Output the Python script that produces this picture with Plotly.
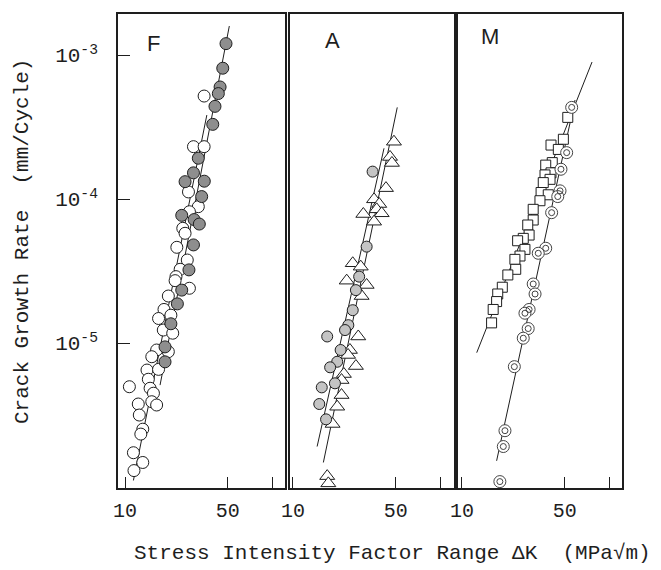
import plotly.graph_objects as go

# ---------------- data (ΔK in MPa√m, da/dN in mm/cycle) ----------------
F_filled_dk = [48.6, 46.2, 44.3, 43.1, 40.9, 39.5, 31.5, 29.2, 34.6, 25.6, 33.2, 24.3, 29.5, 32.0,
               29.2, 27.2, 24.3, 22.7, 20.5, 18.7, 18.7]
F_filled_rate = [1.20e-3, 8.1e-4, 6.0e-4, 5.4e-4, 4.4e-4, 3.3e-4, 1.92e-4, 1.52e-4, 1.33e-4, 1.32e-4,
                 1.04e-4, 7.7e-5, 7.2e-5, 6.7e-5, 4.8e-5, 3.22e-5, 2.33e-5, 1.87e-5, 1.36e-5, 9.4e-6, 7.4e-6]

F_open_dk = [34.5, 29.2, 34.5, 27.0, 31.5, 27.4, 24.7, 25.6, 22.5, 26.5, 23.7, 22.2, 21.9, 27.4,
             19.7, 18.4, 16.9, 20.5, 18.2, 21.1, 16.4, 19.7, 15.2, 14.1, 16.9, 14.4, 14.8, 15.6,
             10.7, 15.2, 16.4, 12.3, 12.5, 13.2, 12.8, 11.4, 13.2, 11.5]
F_open_rate = [5.19e-4, 2.31e-4, 2.31e-4, 1.12e-4, 8.85e-5, 8.16e-5, 6.26e-5, 5.78e-5, 4.62e-5,
               3.77e-5, 3.25e-5, 2.89e-5, 2.71e-5, 2.40e-5, 2.12e-5, 1.71e-5, 1.48e-5, 1.56e-5,
               1.23e-5, 1.17e-5, 8.94e-6, 8.7e-6, 8.03e-6, 6.49e-6, 6.56e-6, 5.6e-6, 4.85e-6,
               4.48e-6, 4.97e-6, 3.91e-6, 3.71e-6, 3.77e-6, 3.16e-6, 2.52e-6, 2.33e-6, 1.73e-6,
               1.48e-6, 1.30e-6]

F_fit_filled_dk = [17.3, 51.2]
F_fit_filled_rate = [5.1e-6, 1.59e-3]
F_fit_open_dk = [11.4, 36.0]
F_fit_open_rate = [1.11e-6, 3.83e-4]

A_tri_dk = [48.6, 45.7, 47.1, 42.9, 35.6, 38.6, 37.1, 40.1, 30.1, 35.6, 25.5, 28.9, 23.2, 31.7,
            29.3, 27.8, 24.4, 23.7, 26.8, 22.2, 21.4, 21.4, 20.0, 18.6, 17.1, 17.4]
A_tri_rate = [2.50e-4, 1.96e-4, 1.78e-4, 1.19e-4, 9.95e-5, 9.23e-5, 8.48e-5, 7.96e-5, 7.87e-5,
              6.96e-5, 3.58e-5, 3.39e-5, 2.71e-5, 2.53e-5, 2.12e-5, 1.11e-5, 8.94e-6, 8.26e-6,
              6.92e-6, 6.09e-6, 5.53e-6, 4.35e-6, 3.61e-6, 2.74e-6, 1.19e-6, 1.06e-6]

A_circ_dk = [34.8, 31.7, 28.2, 26.8, 25.5, 23.8, 22.6, 17.1, 21.1, 20.0, 17.9, 19.3, 15.7, 15.1, 16.8]
A_circ_rate = [1.55e-4, 4.67e-5, 2.89e-5, 2.33e-5, 1.69e-5, 1.33e-5, 1.23e-5, 1.11e-5, 8.94e-6,
               7.41e-6, 6.78e-6, 5.25e-6, 4.92e-6, 3.77e-6, 2.95e-6]

A_fit_circ_dk = [14.6, 41.6]
A_fit_circ_rate = [1.91e-6, 2.25e-4]
A_fit_tri_dk = [16.1, 51.2]
A_fit_tri_rate = [1.48e-6, 4.33e-4]

M_sq_dk = [52.4, 48.9, 40.3, 45.2, 41.1, 37.1, 40.3, 36.7, 39.7, 35.7, 34.5, 38.6, 33.9, 30.5,
           30.5, 28.0, 28.6, 26.1, 23.9, 26.8, 24.8, 22.9, 23.2, 20.5, 18.8, 17.5, 17.2, 16.3, 15.9]
M_sq_rate = [3.69e-4, 2.60e-4, 2.37e-4, 2.21e-4, 1.79e-4, 1.72e-4, 1.52e-4, 1.47e-4, 1.37e-4,
             1.30e-4, 1.11e-4, 1.07e-4, 9.73e-5, 8.48e-5, 7.15e-5, 6.6e-5, 5.62e-5, 5.33e-5,
             5.13e-5, 4.47e-5, 4.02e-5, 3.81e-5, 3.25e-5, 2.97e-5, 2.44e-5, 2.19e-5, 1.94e-5,
             1.71e-5, 1.38e-5]

M_circ_dk = [55.7, 51.5, 47.1, 46.4, 44.8, 40.7, 37.1, 33.0, 30.5, 31.4, 28.6, 26.8, 28.2, 26.1,
             22.7, 19.6, 19.1, 18.1]
M_circ_rate = [4.33e-4, 2.10e-4, 1.61e-4, 1.14e-4, 1.04e-4, 8.04e-5, 4.55e-5, 4.20e-5, 2.57e-5,
               2.19e-5, 1.71e-5, 1.61e-5, 1.26e-5, 1.08e-5, 6.85e-6, 2.46e-6, 1.91e-6, 1.09e-6]

M_fit_sq_dk = [12.6, 76.6]
M_fit_sq_rate = [8.57e-6, 8.94e-4]
M_fit_circ_dk = [17.2, 58.7]
M_fit_circ_rate = [1.52e-6, 4.87e-4]

x_tick_vals = [10, 50, 100]
x_tick_text = ["10", "50", ""]
y_tick_vals = [1e-3, 1e-4, 1e-5]
y_tick_text = ["10<sup>-3</sup>", "10<sup>-4</sup>", "10<sup>-5</sup>"]
panel_names = ["F", "A", "M"]

# ---------------- figure ----------------
OFF = 8                      # page body margin of the browser
W, H = 661 - OFF, 570 - OFF
INK = "#1e1e1e"
MONO = "Liberation Mono, DejaVu Sans Mono, monospace"

fig = go.Figure()

def line(xs, ys, ax):
    fig.add_trace(go.Scatter(x=xs, y=ys, mode="lines", line=dict(color=INK, width=1),
                             xaxis=ax[0], yaxis=ax[1], showlegend=False, hoverinfo="skip"))

def pts(xs, ys, ax, symbol, size, fill, lw=1, lc=INK):
    fig.add_trace(go.Scatter(x=xs, y=ys, mode="markers", xaxis=ax[0], yaxis=ax[1],
                             marker=dict(symbol=symbol, size=size, color=fill,
                                         line=dict(color=lc, width=lw)),
                             showlegend=False))

axF, axA, axM = ("x", "y"), ("x2", "y2"), ("x3", "y3")

line(F_fit_filled_dk, F_fit_filled_rate, axF)
line(F_fit_open_dk, F_fit_open_rate, axF)
pts(F_open_dk, F_open_rate, axF, "circle", 12, "white")
pts(F_filled_dk, F_filled_rate, axF, "circle", 12, "#8e8e8e")

line(A_fit_circ_dk, A_fit_circ_rate, axA)
line(A_fit_tri_dk, A_fit_tri_rate, axA)
pts(A_tri_dk, A_tri_rate, axA, "triangle-up", 13, "white")
pts(A_circ_dk, A_circ_rate, axA, "circle", 11, "#c4c4c4")

line(M_fit_sq_dk, M_fit_sq_rate, axM)
line(M_fit_circ_dk, M_fit_circ_rate, axM)
pts(M_sq_dk, M_sq_rate, axM, "square", 10, "white")
pts(M_circ_dk, M_circ_rate, axM, "circle", 12, "white", lw=1, lc="#444")
pts(M_circ_dk, M_circ_rate, axM, "circle-open", 6, "#444", lw=1, lc="#444")

# axis geometry (pixels in the 661x570 screenshot)
panels_px = [(118, 285, 0.952, 2.088), (290, 454, 0.980, 2.095), (458, 622, 0.973, 2.088)]
top_px, bot_px = 14, 488

common_y = dict(type="log", range=[-6.007, -2.715], showgrid=False, zeroline=False,
                showline=True, mirror=True, linecolor=INK, linewidth=1.6, automargin=False)
common_x = dict(type="log", showgrid=False, zeroline=False, showline=True, mirror=True,
                linecolor=INK, linewidth=1.6, tickmode="array", tickvals=x_tick_vals,
                ticktext=x_tick_text, ticks="inside", ticklen=11, tickcolor=INK,
                tickfont=dict(family=MONO, size=20, color=INK), automargin=False,
                ticklabelstandoff=3)

layout = dict(width=W, height=H,
              margin=dict(l=0, r=0, t=top_px - OFF, b=H - (bot_px - OFF)),
              paper_bgcolor="white", plot_bgcolor="white", showlegend=False)
for i, (l, r, x0, x1) in enumerate(panels_px):
    sx = "" if i == 0 else str(i + 1)
    xa = dict(common_x, domain=[(l - OFF) / W, (r - OFF) / W], range=[x0, x1], anchor="y" + sx)
    ya = dict(common_y, domain=[0, 1], anchor="x" + sx)
    if i == 0:
        ya.update(tickmode="array", tickvals=y_tick_vals, ticktext=y_tick_text,
                  ticks="inside", ticklen=12, tickcolor=INK, ticklabelstandoff=14,
                  tickfont=dict(family=MONO, size=21, color=INK))
    else:
        ya.update(showticklabels=False, ticks="")
    layout["xaxis" + sx] = xa
    layout["yaxis" + sx] = ya
fig.update_layout(**layout)

def px2paper(px, py):
    return (px - OFF) / W, (bot_px - py) / (bot_px - top_px)

# panel letters
label_px = [(153, 43), (332, 41), (490, 37)]
for name, (px, py) in zip(panel_names, label_px):
    ax_, ay_ = px2paper(px, py)
    fig.add_annotation(text=name, xref="paper", yref="paper", x=ax_, y=ay_, showarrow=False,
                       xanchor="center", yanchor="middle",
                       font=dict(family="Liberation Sans, Arial, sans-serif", size=22, color=INK))

# axis titles
tx, ty = px2paper(393, 553)
fig.add_annotation(text="Stress Intensity Factor Range ΔK  (MPa√m)", xref="paper", yref="paper",
                   x=tx, y=ty, showarrow=False, xanchor="center", yanchor="middle",
                   font=dict(family=MONO, size=21, color=INK))
tx, ty = px2paper(22, 242)
fig.add_annotation(text="Crack Growth Rate  (mm/Cycle)", xref="paper", yref="paper",
                   x=tx, y=ty, textangle=-90, showarrow=False, xanchor="center", yanchor="middle",
                   font=dict(family=MONO, size=21, color=INK))

fig.write_html("out.html")
